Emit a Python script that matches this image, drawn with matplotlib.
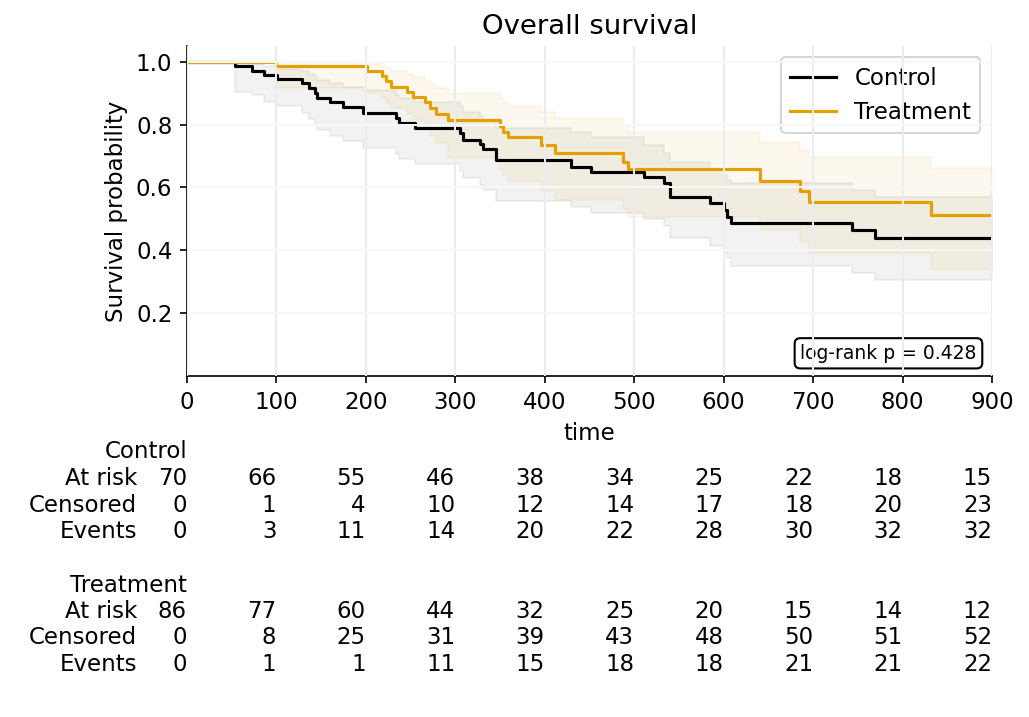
"""Kaplan-Meier style survival plot with an at-risk table underneath."""
import matplotlib
matplotlib.use("Agg")
import matplotlib.pyplot as plt
import matplotlib.transforms as mtransforms
import numpy as np

# step curves (event times, survival, CI bounds)
ctrl_t = [54, 73, 86, 101, 129, 136, 143, 145, 160, 175, 197, 234, 237, 255, 305,
          309, 328, 331, 345, 429, 452, 511, 533, 540, 585, 600, 604, 608, 743, 769]
ctrl_s = [0.986, 0.971, 0.957, 0.945, 0.932, 0.916, 0.900, 0.884, 0.871, 0.856,
          0.836, 0.820, 0.805, 0.790, 0.773, 0.751, 0.738, 0.722, 0.688, 0.666,
          0.650, 0.632, 0.613, 0.571, 0.550, 0.528, 0.507, 0.486, 0.464, 0.438]
ctrl_lo = [0.905, 0.893, 0.873, 0.858, 0.836, 0.818, 0.800, 0.783, 0.764, 0.748,
           0.727, 0.706, 0.690, 0.674, 0.653, 0.629, 0.608, 0.592, 0.557, 0.537,
           0.520, 0.499, 0.477, 0.438, 0.414, 0.392, 0.374, 0.351, 0.328, 0.305]
ctrl_hi = [0.998, 0.993, 0.986, 0.978, 0.970, 0.960, 0.951, 0.942, 0.932, 0.920,
           0.911, 0.895, 0.886, 0.873, 0.858, 0.840, 0.828, 0.815, 0.790, 0.775,
           0.760, 0.735, 0.710, 0.680, 0.660, 0.640, 0.625, 0.613, 0.592, 0.571]

trt_t = [99, 201, 218, 222, 228, 246, 253, 266, 272, 278, 292, 350, 353, 359, 396,
         411, 488, 493, 641, 685, 695, 832]
trt_s = [0.987, 0.971, 0.956, 0.939, 0.921, 0.905, 0.889, 0.873, 0.852, 0.833,
         0.815, 0.794, 0.776, 0.759, 0.735, 0.709, 0.682, 0.658, 0.622, 0.590,
         0.555, 0.512]
trt_lo = [0.918, 0.900, 0.884, 0.868, 0.852, 0.834, 0.815, 0.783, 0.765, 0.742,
          0.693, 0.660, 0.640, 0.620, 0.590, 0.560, 0.530, 0.505, 0.465, 0.427,
          0.390, 0.342]
trt_hi = [0.998, 0.994, 0.988, 0.980, 0.971, 0.962, 0.952, 0.941, 0.929, 0.915,
          0.900, 0.885, 0.872, 0.860, 0.840, 0.820, 0.800, 0.775, 0.746, 0.720,
          0.696, 0.661]

t_max = 900
table_times = [0, 100, 200, 300, 400, 500, 600, 700, 800, 900]
ctrl_at_risk = [70, 66, 55, 46, 38, 34, 25, 22, 18, 15]
ctrl_censored = [0, 1, 4, 10, 12, 14, 17, 18, 20, 23]
ctrl_events = [0, 3, 11, 14, 20, 22, 28, 30, 32, 32]
trt_at_risk = [86, 77, 60, 44, 32, 25, 20, 15, 14, 12]
trt_censored = [0, 8, 25, 31, 39, 43, 48, 50, 51, 52]
trt_events = [0, 1, 1, 11, 15, 18, 18, 21, 21, 22]
p_value = 0.428

plt.rcParams["font.size"] = 11

fig = plt.figure(figsize=(1029 / 150, 717 / 150), dpi=150)
ax = fig.add_axes([0.1817, 0.4756, 0.7823, 0.4602])


def full_steps(times, values, start=1.0):
    x = np.r_[0, times, t_max]
    y = np.r_[start, values, values[-1]]
    return x, y


for name, color, t, s, lo, hi, a in [
    ("Control", "black", ctrl_t, ctrl_s, ctrl_lo, ctrl_hi, 0.05),
    ("Treatment", "#E69F00", trt_t, trt_s, trt_lo, trt_hi, 0.07),
]:
    x, y = full_steps(t, s)
    _, ylo = full_steps(t, lo)
    _, yhi = full_steps(t, hi)
    ax.fill_between(x, ylo, yhi, step="post", color=color, alpha=a, linewidth=1)
    ax.step(x, y, where="post", color=color, lw=1.5, label=name)

ax.set_xlim(0, t_max)
ax.set_ylim(0, 1.05)
ax.set_xticks(table_times)
ax.set_yticks([0.2, 0.4, 0.6, 0.8, 1.0])
ax.set_xlabel("time")
ax.set_ylabel("Survival probability")
ax.set_title("Overall survival", fontsize=13.2)
ax.spines[["top", "right"]].set_visible(False)

# grid sits on top of the curves and the legend, like the original
ax.grid(axis="x", color="#ebebf1", lw=1)
ax.grid(axis="y", color="#f7f7f7", lw=1)
ax.xaxis.set_zorder(6)
ax.yaxis.set_zorder(6)

ax.legend(loc="upper right")
ax.text(0.981, 0.04, f"log-rank p = {p_value:.3f}", transform=ax.transAxes,
        ha="right", va="bottom", fontsize=9,
        bbox=dict(boxstyle="round,pad=0.3", fc="white", ec="black", lw=1))

# at-risk table under the axes
trans = mtransforms.blended_transform_factory(ax.transData, fig.transFigure)
label_trans = mtransforms.offset_copy(trans, fig=fig, x=-50, units="dots")


def py(pix):
    return 1 - pix / 717


blocks = [
    ("Control", 452, [("At risk", ctrl_at_risk), ("Censored", ctrl_censored),
                      ("Events", ctrl_events)]),
    ("Treatment", 585, [("At risk", trt_at_risk), ("Censored", trt_censored),
                        ("Events", trt_events)]),
]
for group, y0, rows in blocks:
    fig.text(0, py(y0), group, transform=trans, ha="right", va="center")
    for i, (row_name, vals) in enumerate(rows):
        y = py(y0 + 26.5 * (i + 1))
        fig.text(0, y, row_name, transform=label_trans, ha="right", va="center")
        for tt, v in zip(table_times, vals):
            fig.text(tt, y, str(v), transform=trans, ha="right", va="center")

fig.savefig("out.png", dpi=150)
